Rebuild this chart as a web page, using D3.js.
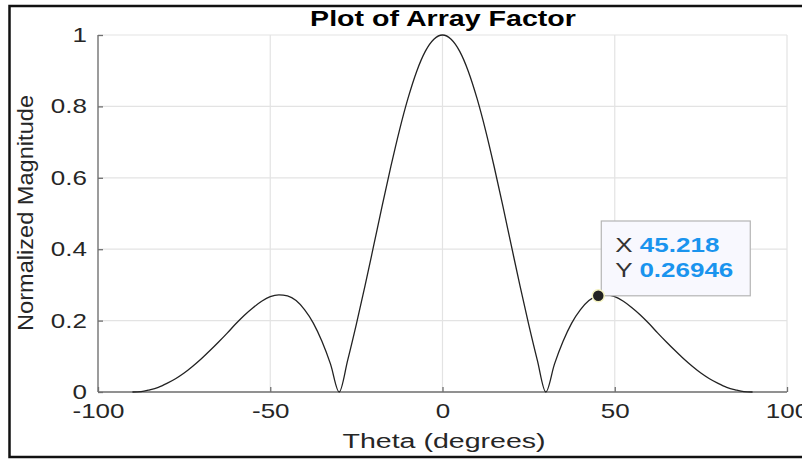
<!DOCTYPE html>
<html>
<head>
<meta charset="utf-8">
<script src="https://cdn.jsdelivr.net/npm/d3@7"></script>
<style>
  body { margin: 0; background: #fff; }
  text { font-family: "Liberation Sans", Arial, sans-serif; }
</style>
</head>
<body>
<svg id="chart" width="802" height="459"></svg>
<script>
// theta in degrees, magnitude normalized
const theta = [
  -90, -87.5, -85, -82.5, -80, -77.5, -75, -72.5, -70, -67.5, -65, -62.5, -60, -57.5, -55, -52.5, -50, -47.5, -45, -42.5, -40, -37.5, -35, -32.5, -30,
  -27.5, -25, -22.5, -20, -17.5, -15, -12.5, -10, -7.5, -5, -2.5, 0,
  2.5, 5, 7.5, 10, 12.5, 15, 17.5, 20, 22.5, 25, 27.5,
  30, 32.5, 35, 37.5, 40, 42.5, 45, 47.5, 50, 52.5, 55, 57.5, 60, 62.5, 65, 67.5, 70, 72.5, 75, 77.5, 80, 82.5, 85, 87.5, 90
];
const magnitude = [
  0, 0.001, 0.006, 0.013, 0.024, 0.037, 0.053, 0.072, 0.093, 0.116, 0.140, 0.165, 0.191, 0.215, 0.236, 0.254, 0.267, 0.272, 0.269, 0.256, 0.230, 0.193, 0.142, 0.078, 0,
  0.090, 0.190, 0.297, 0.409, 0.522, 0.631, 0.733, 0.823, 0.898, 0.954, 0.988, 1,
  0.988, 0.954, 0.898, 0.823, 0.733, 0.631, 0.522, 0.409, 0.297, 0.190, 0.090,
  0, 0.078, 0.142, 0.193, 0.230, 0.256, 0.269, 0.272, 0.267, 0.254, 0.236, 0.215, 0.191, 0.165, 0.140, 0.116, 0.093, 0.072, 0.053, 0.037, 0.024, 0.013, 0.006, 0.001, 0
];
const xTicks = [-100, -50, 0, 50, 100];
const yTicks = [0, 0.2, 0.4, 0.6, 0.8, 1];
const tipX = 45.218;
const tipY = 0.26946;

const svg = d3.select("#chart");
const sx = 1.3; // the reference text is stretched sideways

const x = d3.scaleLinear().domain([-100, 100]).range([98, 787]);
const y = d3.scaleLinear().domain([0, 1]).range([392, 35]);

// outer frame
svg.append("rect")
  .attr("x", 9.5).attr("y", 6)
  .attr("width", 820).attr("height", 451)
  .attr("fill", "none")
  .attr("stroke", "#111")
  .attr("stroke-width", 2.5);

// grid
svg.append("g")
  .selectAll("line")
  .data(xTicks)
  .join("line")
  .attr("x1", d => x(d)).attr("x2", d => x(d))
  .attr("y1", y(0)).attr("y2", y(1))
  .attr("stroke", "#e3e3e3").attr("stroke-width", 1.2);
svg.append("g")
  .selectAll("line")
  .data(yTicks)
  .join("line")
  .attr("x1", x(-100)).attr("x2", x(100))
  .attr("y1", d => y(d)).attr("y2", d => y(d))
  .attr("stroke", "#e3e3e3").attr("stroke-width", 1.2);

// axes (ticks point inward)
const xAxis = svg.append("g")
  .attr("transform", `translate(0,${y(0)})`)
  .call(d3.axisBottom(x).tickValues(xTicks).tickSize(-5).tickPadding(12).tickFormat(d => String(d)));
const yAxis = svg.append("g")
  .attr("transform", `translate(${x(-100)},0)`)
  .call(d3.axisLeft(y).tickValues(yTicks).tickSize(-5).tickPadding(8.5).tickFormat(d => d === 0 || d === 1 ? d : d.toFixed(1)));

[xAxis, yAxis].forEach(g => {
  g.select(".domain").attr("stroke", "#707070").attr("stroke-width", 1.3);
  g.selectAll(".tick line").attr("stroke", "#707070").attr("stroke-width", 1.3);
  g.selectAll(".tick text")
    .attr("fill", "#262626")
    .attr("transform", `scale(${sx},1)`)
    .style("font-size", "20px")
    .style("font-family", "'Liberation Sans', Arial, sans-serif");
});
xAxis.select(".domain").attr("d", `M${x(-100)},0H${x(100)}`);
yAxis.select(".domain").attr("d", `M0,${y(0)}V${y(1)}`);

// curve
const pts = theta.map((t, i) => [t, magnitude[i]]);
svg.append("path")
  .datum(pts)
  .attr("fill", "none")
  .attr("stroke", "#222")
  .attr("stroke-width", 1.3)
  .attr("d", d3.line().x(d => x(d[0])).y(d => y(d[1])).curve(d3.curveMonotoneX));

// title and labels
svg.append("text")
  .attr("transform", `translate(443,26) scale(${sx},1)`)
  .attr("text-anchor", "middle")
  .style("font-size", "22px").style("font-weight", "bold")
  .attr("fill", "#000")
  .text("Plot of Array Factor");

svg.append("text")
  .attr("transform", `translate(444,448) scale(1.36,1)`)
  .attr("text-anchor", "middle")
  .style("font-size", "21px")
  .attr("fill", "#262626")
  .text("Theta (degrees)");

svg.append("text")
  .attr("transform", "translate(33,213) rotate(-90)")
  .attr("text-anchor", "middle")
  .attr("textLength", 236).attr("lengthAdjust", "spacingAndGlyphs")
  .style("font-size", "22px")
  .attr("fill", "#262626")
  .text("Normalized Magnitude");

// data tip
const tx = x(tipX), ty = y(tipY);
svg.append("rect")
  .attr("x", tx + 3).attr("y", 221)
  .attr("width", 149).attr("height", ty - 221)
  .attr("fill", "#f8f8fe")
  .attr("stroke", "#b4b4b4").attr("stroke-width", 1.2);

[["X ", tipX, 252], ["Y ", tipY, 277]].forEach(([k, v, yy]) => {
  const t = svg.append("text")
    .attr("transform", `translate(${tx + 17},${yy}) scale(${sx},1)`)
    .style("font-size", "20px");
  t.append("tspan").attr("fill", "#333").text(k);
  t.append("tspan").attr("fill", "#1a94ee").style("font-weight", "bold").text(v);
});

svg.append("circle")
  .attr("cx", tx).attr("cy", ty).attr("r", 6)
  .attr("fill", "#222")
  .attr("stroke", "#f4f2c0").attr("stroke-width", 1.5);
</script>
</body>
</html>
